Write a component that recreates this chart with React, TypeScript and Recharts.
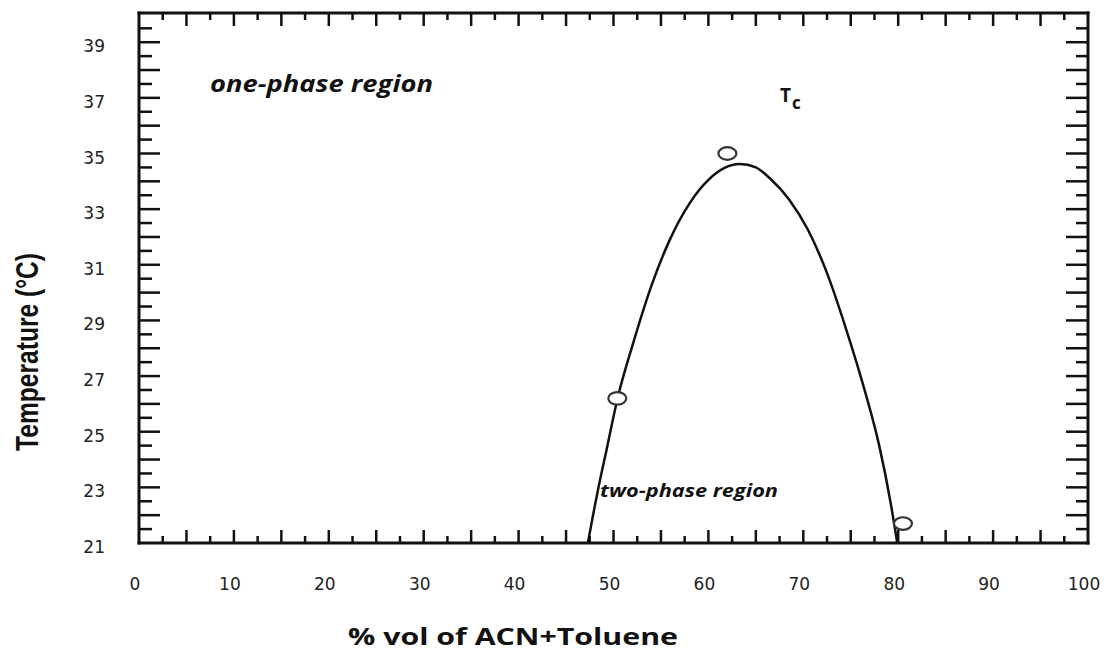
import { ComposedChart, Line, Scatter, XAxis, YAxis, ReferenceLine } from "recharts";

// fitted curve (coexistence line)
const curveX = [47.3, 48.3, 49.3, 50.5, 52.0, 54.0, 56.0, 58.0, 60.0, 61.7, 63.3, 65.0, 66.5, 68.5, 70.5, 72.5, 74.5, 76.5, 78.0, 79.2, 79.9];
const curveT = [21.0, 22.8, 24.4, 26.3, 28.1, 30.25, 31.95, 33.2, 34.05, 34.48, 34.62, 34.5, 34.1, 33.35, 32.25, 30.7, 28.7, 26.45, 24.5, 22.45, 21.0];

// measured points (open circles)
const pointX = [50.4, 62.0, 80.5];
const pointT = [26.2, 35.0, 21.7];

// tick labels
const xLabels = [0, 10, 20, 30, 40, 50, 60, 70, 80, 90, 100];
const yLabels = [21, 23, 25, 27, 29, 31, 33, 35, 37, 39];

const X_DOMAIN: [number, number] = [0, 100];
const Y_DOMAIN: [number, number] = [21, 40.05];

// tick marks every 2.5 % (long every 5) and every 0.5 °C (long every 1)
const xMarks = Array.from({ length: 41 }, (_, i) => i * 2.5);
const yMarks = Array.from({ length: 38 }, (_, i) => 21 + i * 0.5);

const curveData = curveX.map((x, i) => ({ x, t: curveT[i] }));
const pointData = pointX.map((x, i) => ({ x, t: pointT[i] }));

const W = 1107;
const H = 652;
const MARGIN = { top: 13, right: 19, bottom: 49, left: 0 };
const PLOT_TOP = MARGIN.top;
const PLOT_RIGHT = W - MARGIN.right;

const INK = "#111";
const frameStyle = { stroke: INK, strokeWidth: 3, strokeLinecap: "square" as const };
const X_GAP = 35;
const Y_GAP = 34;

const isLong = (v: number, step: number) => Math.abs(v / step - Math.round(v / step)) < 1e-6;

// bottom axis: inward ticks on bottom and top edges + labels
function BottomTick({ x, y, payload }: any) {
    const v = payload.value;
    const y0 = y - X_GAP;
    const edge = v <= X_DOMAIN[0] || v >= X_DOMAIN[1];
    const len = isLong(v, 5) ? 13 : 7;
    return (
        <g>
            {!edge && <line x1={x} x2={x} y1={y0} y2={y0 - len} stroke={INK} strokeWidth={2.5} />}
            {!edge && <line x1={x} x2={x} y1={PLOT_TOP} y2={PLOT_TOP + len} stroke={INK} strokeWidth={2.5} />}
            {xLabels.includes(v) && (
                <text x={x - 4} y={y} dy="0.71em" textAnchor="middle" fill="#222" fontSize={17} fontFamily="DejaVu Sans">
                    {v}
                </text>
            )}
        </g>
    );
}

// left axis: inward ticks on left and right edges + labels
function LeftTick({ x, y, payload }: any) {
    const v = payload.value;
    const x0 = x + Y_GAP;
    const long = isLong(v, 1);
    return (
        <g>
            {v > Y_DOMAIN[0] && (
                <>
                    <line x1={x0} x2={x0 + (long ? 21 : 13)} y1={y} y2={y} stroke={INK} strokeWidth={2.5} />
                    <line x1={PLOT_RIGHT} x2={PLOT_RIGHT - (long ? 22 : 12)} y1={y} y2={y} stroke={INK} strokeWidth={2.5} />
                </>
            )}
            {yLabels.includes(v) && (
                <text x={x} y={y + 4} dy="0.355em" textAnchor="end" fill="#222" fontSize={17} fontFamily="DejaVu Sans">
                    {v}
                </text>
            )}
        </g>
    );
}

const Ring = (props: any) => (
    <ellipse cx={props.cx} cy={props.cy} rx={9} ry={6.3} fill="#fff" stroke="#333" strokeWidth={2.2} />
);

export default function App() {
    return (
        <div style={{ position: "absolute", left: 0, top: 0, background: "#fff" }}>
            <ComposedChart width={W} height={H} margin={MARGIN}>
                <XAxis dataKey="x" type="number" domain={X_DOMAIN} ticks={xMarks} interval={0} height={60}
                    tickLine={false} axisLine={frameStyle} tickSize={0} tickMargin={X_GAP} tick={<BottomTick />} allowDataOverflow />
                <YAxis dataKey="t" type="number" domain={Y_DOMAIN} ticks={yMarks} interval={0} width={139}
                    tickLine={false} axisLine={frameStyle} tickSize={0} tickMargin={Y_GAP} tick={<LeftTick />} allowDataOverflow />

                {/* top and right edges of the frame */}
                <ReferenceLine y={Y_DOMAIN[1]} stroke={INK} strokeWidth={3} strokeLinecap="square" />
                <ReferenceLine x={X_DOMAIN[1]} stroke={INK} strokeWidth={3} strokeLinecap="square" />

                <Line data={curveData} dataKey="t" type="monotone" stroke={INK} strokeWidth={2.5} dot={false}
                    activeDot={false} isAnimationActive={false} />
                <Scatter data={pointData} dataKey="t" shape={<Ring />} isAnimationActive={false} />

                {/* annotations */}
                <text x={210} y={92} fill={INK} fontFamily="Open Sans" fontWeight={700} fontStyle="italic" fontSize={23}
                    textLength={223} lengthAdjust="spacingAndGlyphs">
                    one-phase region
                </text>
                <text x={780} y={102} fill={INK} fontFamily="Open Sans" fontWeight={700} fontSize={19}>
                    T<tspan fontSize={17} dx={1} dy={7}>c</tspan>
                </text>
                <text x={600} y={497} fill={INK} fontFamily="Open Sans" fontWeight={700} fontStyle="italic" fontSize={18}
                    textLength={178} lengthAdjust="spacingAndGlyphs">
                    two-phase region
                </text>
                <text x={348} y={645} fill={INK} fontFamily="Open Sans" fontWeight={700} fontSize={24}
                    textLength={330} lengthAdjust="spacingAndGlyphs">
                    % vol of ACN+Toluene
                </text>
                <text transform="translate(38, 352) rotate(-90)" textAnchor="middle" fill={INK}
                    fontFamily="Liberation Sans Narrow, Liberation Sans" fontWeight={700} fontSize={32}
                    textLength={198} lengthAdjust="spacingAndGlyphs">
                    Temperature (°C)
                </text>
            </ComposedChart>
        </div>
    );
}
